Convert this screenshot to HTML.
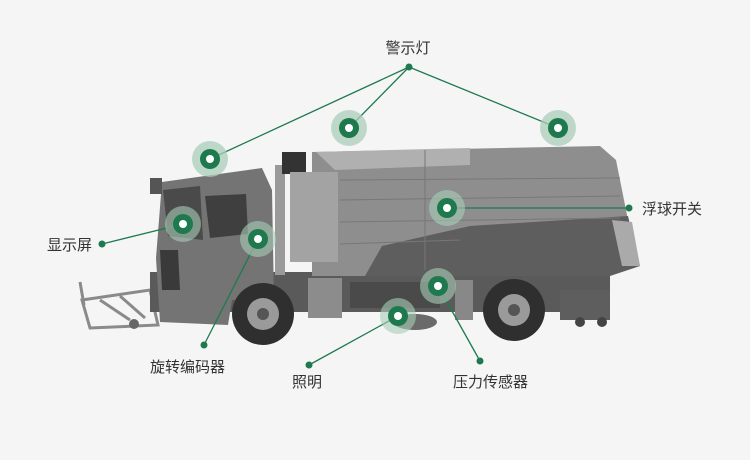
<!DOCTYPE html>
<html><head><meta charset="utf-8"><style>
html,body{margin:0;padding:0;background:#f5f5f5;}
svg{display:block}
text{font-family:"Liberation Sans","Noto Sans CJK SC",sans-serif;font-size:15px;fill:#333}
</style></head><body>
<svg width="750" height="460" viewBox="0 0 750 460">
<rect width="750" height="460" fill="#f5f5f5"/>
<!-- front attachment -->
<g stroke="#8a8a8a" stroke-width="3" fill="none">
<path d="M82 300 L150 290 L158 325 L90 328 Z"/>
<path d="M80 282 L84 305 M100 300 L130 320 M120 296 L145 318"/>
</g>
<circle cx="134" cy="324" r="5" fill="#666"/>
<!-- chassis -->
<rect x="150" y="272" width="460" height="40" fill="#5a5a5a"/>
<rect x="308" y="278" width="34" height="40" fill="#8c8c8c"/>
<!-- cab -->
<path d="M162 182 L262 168 L272 190 L274 300 L232 300 L228 325 L160 322 L156 258 Z" fill="#747474"/>
<path d="M163 190 L200 186 L203 240 L168 236 Z" fill="#4a4a4a"/>
<path d="M205 196 L246 194 L248 234 L210 238 Z" fill="#3f3f3f"/>
<path d="M160 250 L178 250 L180 290 L162 290 Z" fill="#3a3a3a"/>
<rect x="150" y="178" width="12" height="16" fill="#555"/>
<!-- tube -->
<rect x="275" y="165" width="10" height="110" fill="#9a9a9a"/>
<rect x="282" y="152" width="24" height="22" fill="#333"/>
<!-- tank -->
<path d="M312 152 L600 146 L616 160 L628 220 L640 266 L620 268 L610 276 L312 276 Z" fill="#8e8e8e"/>
<path d="M290 172 L338 172 L338 262 L290 262 Z" fill="#a3a3a3"/>
<path d="M316 152 L470 148 L470 165 L335 170 Z" fill="#b0b0b0"/>
<path d="M365 276 L382 246 L470 226 L628 216 L640 266 L610 276 Z" fill="#5e5e5e"/>
<g stroke="#777" stroke-width="1">
<line x1="340" y1="180" x2="620" y2="178"/><line x1="340" y1="200" x2="620" y2="196"/>
<line x1="340" y1="222" x2="620" y2="218"/><line x1="340" y1="244" x2="460" y2="240"/>
<line x1="425" y1="150" x2="425" y2="270"/>
</g>
<path d="M612 220 L632 222 L640 266 L622 266 Z" fill="#aaa"/>
<!-- brushes / lower equipment -->
<rect x="350" y="282" width="90" height="26" fill="#4a4a4a"/>
<rect x="455" y="280" width="18" height="40" fill="#888"/>
<ellipse cx="415" cy="322" rx="22" ry="8" fill="#6a6a6a"/>
<rect x="560" y="290" width="50" height="30" fill="#5e5e5e"/>
<circle cx="580" cy="322" r="5" fill="#444"/><circle cx="602" cy="322" r="5" fill="#444"/>
<!-- wheels -->
<circle cx="263" cy="314" r="31" fill="#2f2f2f"/><circle cx="263" cy="314" r="16" fill="#9a9a9a"/><circle cx="263" cy="314" r="6" fill="#555"/>
<circle cx="514" cy="310" r="31" fill="#2f2f2f"/><circle cx="514" cy="310" r="16" fill="#9a9a9a"/><circle cx="514" cy="310" r="6" fill="#555"/>

<!-- connectors -->
<g stroke="#1e7a4e" stroke-width="1.3" fill="none">
<line x1="409" y1="67" x2="210" y2="159"/>
<line x1="409" y1="67" x2="349" y2="128"/>
<line x1="409" y1="67" x2="558" y2="128"/>
<line x1="102" y1="244" x2="183" y2="224"/>
<line x1="204" y1="345" x2="258" y2="239"/>
<line x1="309" y1="365" x2="398" y2="316"/>
<line x1="480" y1="361" x2="438" y2="286"/>
<line x1="629" y1="208" x2="447" y2="208"/>
</g>
<g fill="#1e7a4e">
<circle cx="409" cy="67" r="3.5"/><circle cx="102" cy="244" r="3.5"/><circle cx="204" cy="345" r="3.5"/>
<circle cx="309" cy="365" r="3.5"/><circle cx="480" cy="361" r="3.5"/><circle cx="629" cy="208" r="3.5"/>
</g>
<!-- markers -->
<g>
<g transform="translate(210,159)"><circle r="18" fill="#a9cdb8" opacity="0.75"/><circle r="10" fill="#1e7a4e"/><circle r="4" fill="#fff"/></g>
<g transform="translate(349,128)"><circle r="18" fill="#a9cdb8" opacity="0.75"/><circle r="10" fill="#1e7a4e"/><circle r="4" fill="#fff"/></g>
<g transform="translate(558,128)"><circle r="18" fill="#a9cdb8" opacity="0.75"/><circle r="10" fill="#1e7a4e"/><circle r="4" fill="#fff"/></g>
<g transform="translate(183,224)"><circle r="18" fill="#a9cdb8" opacity="0.6"/><circle r="10" fill="#1e7a4e"/><circle r="4" fill="#fff"/></g>
<g transform="translate(258,239)"><circle r="18" fill="#a9cdb8" opacity="0.6"/><circle r="10" fill="#1e7a4e"/><circle r="4" fill="#fff"/></g>
<g transform="translate(447,208)"><circle r="18" fill="#a9cdb8" opacity="0.6"/><circle r="10" fill="#1e7a4e"/><circle r="4" fill="#fff"/></g>
<g transform="translate(438,286)"><circle r="18" fill="#a9cdb8" opacity="0.6"/><circle r="10" fill="#1e7a4e"/><circle r="4" fill="#fff"/></g>
<g transform="translate(398,316)"><circle r="18" fill="#a9cdb8" opacity="0.6"/><circle r="10" fill="#1e7a4e"/><circle r="4" fill="#fff"/></g>
</g>
<!-- labels -->
<text x="408" y="53" text-anchor="middle">警示灯</text>
<text x="642" y="214">浮球开关</text>
<text x="47" y="250">显示屏</text>
<text x="150" y="372">旋转编码器</text>
<text x="292" y="387">照明</text>
<text x="453" y="387">压力传感器</text>
</svg>
</body></html>
